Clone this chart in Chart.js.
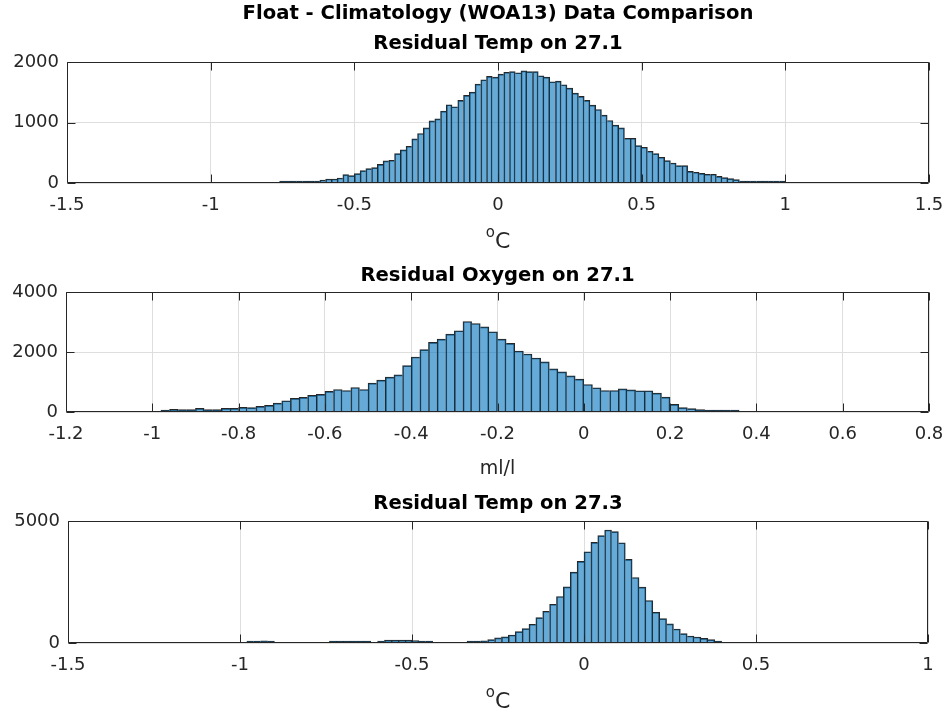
<!DOCTYPE html>
<html>
<head>
<meta charset="utf-8">
<title>Float - Climatology (WOA13) Data Comparison</title>
<script src="https://cdn.jsdelivr.net/npm/chart.js@4.4.1/dist/chart.umd.min.js"></script>
<style>
  html, body { margin: 0; padding: 0; background: #fff; }
  #fig { position: relative; width: 950px; height: 715px; overflow: hidden; }
  #fig canvas { position: absolute; left: 0; }
</style>
</head>
<body>
<div id="fig">
  <canvas id="temp271" width="950" height="260" style="top:0"></canvas>
  <canvas id="oxy271" width="950" height="230" style="top:260px"></canvas>
  <canvas id="temp273" width="950" height="225" style="top:490px"></canvas>
</div>
<script>
// all histograms use 0.02 wide bins
const BIN_WIDTH = 0.02;

// Residual Temp on 27.1 (first bin starts at -0.76)
const temp271Start = -0.76;
const temp271Counts = [
  10, 10, 10, 12, 33, 33, 17, 50, 66, 66,
  83, 138, 122, 155, 204, 238, 254, 309, 365, 376,
  486, 547, 608, 729, 818, 912, 1028, 1061, 1188, 1293,
  1260, 1365, 1448, 1503, 1635, 1707, 1762, 1751,
  1800, 1830, 1840, 1823, 1853, 1840, 1840, 1773, 1751, 1674,
  1685, 1624, 1569, 1486, 1431, 1365, 1287, 1215, 1122, 1033,
  956, 912, 740, 740, 619, 591, 525, 486, 425, 370,
  331, 287, 287, 193, 177, 160, 144, 144, 110, 88,
  72, 55, 33, 33, 33, 33, 33, 17, 17, 17
];
const temp271Ticks = [-1.5, -1, -0.5, 0, 0.5, 1, 1.5];
const temp271CountTicks = [0, 1000, 2000];

// Residual Oxygen on 27.1 (first bin starts at -0.98)
const oxy271Start = -0.98;
const oxy271Counts = [
  44, 88, 77, 77, 122, 77, 77, 122, 122, 155,
  144, 188, 221, 298, 376, 453, 486, 553, 586, 685,
  751, 718, 818, 751, 961, 1061, 1160, 1238, 1547, 1834,
  2077, 2320, 2431, 2597, 2707, 3017, 2950, 2840, 2674, 2431,
  2287, 2033, 1934, 1801, 1669, 1437, 1337, 1204, 1094, 917,
  807, 718, 718, 773, 740, 707, 707, 630, 497, 254,
  144, 110, 77, 66, 66, 33, 33
];
const oxy271Ticks = [-1.2, -1, -0.8, -0.6, -0.4, -0.2, 0, 0.2, 0.4, 0.6, 0.8];
const oxy271CountTicks = [0, 2000, 4000];

// Residual Temp on 27.3 (first bin starts at -0.98)
const temp273Start = -0.98;
const temp273Counts = [
  40, 55, 90, 55, 0, 0, 0, 0, 0, 0,
  0, 0, 35, 40, 40, 40, 40, 35, 0, 20,
  120, 120, 120, 120, 100, 55, 55, 0, 0, 0,
  0, 0, 27, 75, 90, 137, 212, 254, 328, 466,
  589, 767, 1041, 1301, 1589, 1904, 2301, 2904, 3343, 3740,
  4124, 4398, 4631, 4562, 4110, 3425, 2685, 2288, 1740, 1260,
  1000, 781, 575, 384, 288, 247, 192, 137, 55
];
const temp273Ticks = [-1.5, -1, -0.5, 0, 0.5, 1];
const temp273CountTicks = [0, 5000];

const BAR_FILL = 'rgba(0, 114, 189, 0.6)';
const BAR_EDGE = '#262626';
const AXIS_COLOR = '#262626';
const GRID_COLOR = '#dedede';
const FONT = "'DejaVu Sans', sans-serif";
const TICK_LEN = 8;

Chart.defaults.font.family = FONT;

// empty bins become null so nothing is drawn for them
function toPoints(start, counts) {
  return counts.map((c, i) => ({
    x: Math.round((start + (i + 0.5) * BIN_WIDTH) * 10000) / 10000,
    y: c > 0 ? c : null
  }));
}

// one outline per bin edge, drawn on the taller neighbour
function edgeWidths(ctx) {
  const d = ctx.dataset.data;
  const i = ctx.dataIndex;
  if (i == null || !d[i]) return 0;
  const h = d[i].y || 0;
  if (!h) return 0;
  const prev = i > 0 ? (d[i - 1].y || 0) : 0;
  const next = i < d.length - 1 ? (d[i + 1].y || 0) : 0;
  return { top: 1, left: h >= prev ? 1 : 0, right: h > next ? 1 : 0, bottom: 0 };
}

function fmt(v) {
  return String(Math.round(v * 100) / 100);
}

// box, inward tick marks and the unit label under the x axis
const matlabAxes = {
  id: 'matlabAxes',
  afterDraw(chart, args, opts) {
    const { ctx, chartArea: a } = chart;
    const xs = chart.scales.x, ys = chart.scales.y;
    const left = Math.round(a.left) + 0.5, right = Math.round(a.right) - 0.5;
    const top = Math.round(a.top) + 0.5, bottom = Math.round(a.bottom) - 0.5;

    ctx.save();
    ctx.strokeStyle = AXIS_COLOR;
    ctx.lineWidth = 1;
    ctx.beginPath();
    ctx.rect(left, top, right - left, bottom - top);
    xs.ticks.forEach(t => {
      const px = Math.round(xs.getPixelForValue(t.value)) + 0.5;
      ctx.moveTo(px, bottom); ctx.lineTo(px, bottom - TICK_LEN);
      ctx.moveTo(px, top); ctx.lineTo(px, top + TICK_LEN);
    });
    ys.ticks.forEach(t => {
      const py = Math.round(ys.getPixelForValue(t.value)) + 0.5;
      ctx.moveTo(left, py); ctx.lineTo(left + TICK_LEN, py);
      ctx.moveTo(right, py); ctx.lineTo(right - TICK_LEN, py);
    });
    ctx.stroke();

    const u = opts.unit;
    if (u) {
      ctx.fillStyle = AXIS_COLOR;
      ctx.textBaseline = 'alphabetic';
      ctx.textAlign = 'left';
      const supFont = `${u.supSize}px ${FONT}`;
      const mainFont = `${u.size}px ${FONT}`;
      ctx.font = supFont;
      const ws = u.sup ? ctx.measureText(u.sup).width : 0;
      ctx.font = mainFont;
      const wm = ctx.measureText(u.text).width;
      const x0 = (a.left + a.right) / 2 - (ws + wm) / 2;
      const base = a.bottom + u.baseline;
      if (u.sup) {
        ctx.font = supFont;
        ctx.fillText(u.sup, x0, base - u.raise);
      }
      ctx.font = mainFont;
      ctx.fillText(u.text, x0 + ws, base);
    }
    ctx.restore();
  }
};

function titleOpts(text, padTop, padBottom) {
  return {
    display: true,
    text: text,
    color: '#000',
    fullSize: false,
    font: { size: 19.6, weight: 'bold' },
    padding: { top: padTop, bottom: padBottom }
  };
}

function histogramChart(id, cfg) {
  return new Chart(document.getElementById(id), {
    type: 'bar',
    data: {
      datasets: [{
        data: toPoints(cfg.start, cfg.counts),
        backgroundColor: BAR_FILL,
        borderColor: BAR_EDGE,
        borderWidth: edgeWidths,
        borderSkipped: false,
        minBarLength: 2,
        barPercentage: 1,
        categoryPercentage: 1
      }]
    },
    options: {
      responsive: false,
      animation: false,
      events: [],
      layout: { padding: { left: 0, right: cfg.padRight, top: 0, bottom: 0 } },
      plugins: {
        legend: { display: false },
        tooltip: { enabled: false },
        title: cfg.title,
        subtitle: cfg.subtitle || { display: false },
        matlabAxes: { unit: cfg.unit }
      },
      scales: {
        x: {
          type: 'linear',
          min: cfg.xTicks[0],
          max: cfg.xTicks[cfg.xTicks.length - 1],
          offset: false,
          grid: { color: GRID_COLOR, drawTicks: false, offset: false },
          border: { display: false },
          ticks: {
            color: AXIS_COLOR,
            font: { size: 18 },
            padding: 12,
            autoSkip: false,
            maxRotation: 0,
            callback: fmt
          },
          afterBuildTicks: s => { s.ticks = cfg.xTicks.map(v => ({ value: v })); },
          afterFit: s => {
            s.height = cfg.xAxisHeight;
            s.paddingLeft = 0;
            s.paddingRight = 0;
          }
        },
        y: {
          type: 'linear',
          min: 0,
          max: cfg.yTicks[cfg.yTicks.length - 1],
          grid: { color: GRID_COLOR, drawTicks: false },
          border: { display: false },
          ticks: {
            color: AXIS_COLOR,
            font: { size: 18 },
            padding: 8,
            callback: fmt
          },
          afterBuildTicks: s => { s.ticks = cfg.yTicks.map(v => ({ value: v })); },
          afterFit: s => { s.width = cfg.yAxisWidth; }
        }
      }
    },
    plugins: [matlabAxes]
  });
}

const degC = { sup: 'o', supSize: 15, raise: 11.6, text: 'C', size: 22, baseline: 65.3 };

histogramChart('temp271', {
  start: temp271Start,
  counts: temp271Counts,
  xTicks: temp271Ticks,
  yTicks: temp271CountTicks,
  title: titleOpts('Float - Climatology (WOA13) Data Comparison', 2.6, 0),
  subtitle: titleOpts('Residual Temp on 27.1', 6.1, 6.26),
  unit: degC,
  yAxisWidth: 67,
  padRight: 21,
  xAxisHeight: 77
});

histogramChart('oxy271', {
  start: oxy271Start,
  counts: oxy271Counts,
  xTicks: oxy271Ticks,
  yTicks: oxy271CountTicks,
  title: titleOpts('Residual Oxygen on 27.1', 4.2, 4.28),
  unit: { sup: '', supSize: 15, raise: 0, text: 'ml/l', size: 19, baseline: 62 },
  yAxisWidth: 66,
  padRight: 21,
  xAxisHeight: 78
});

histogramChart('temp273', {
  start: temp273Start,
  counts: temp273Counts,
  xTicks: temp273Ticks,
  yTicks: temp273CountTicks,
  title: titleOpts('Residual Temp on 27.3', 2.2, 5.28),
  unit: degC,
  yAxisWidth: 68,
  padRight: 22,
  xAxisHeight: 72
});
</script>
</body>
</html>
